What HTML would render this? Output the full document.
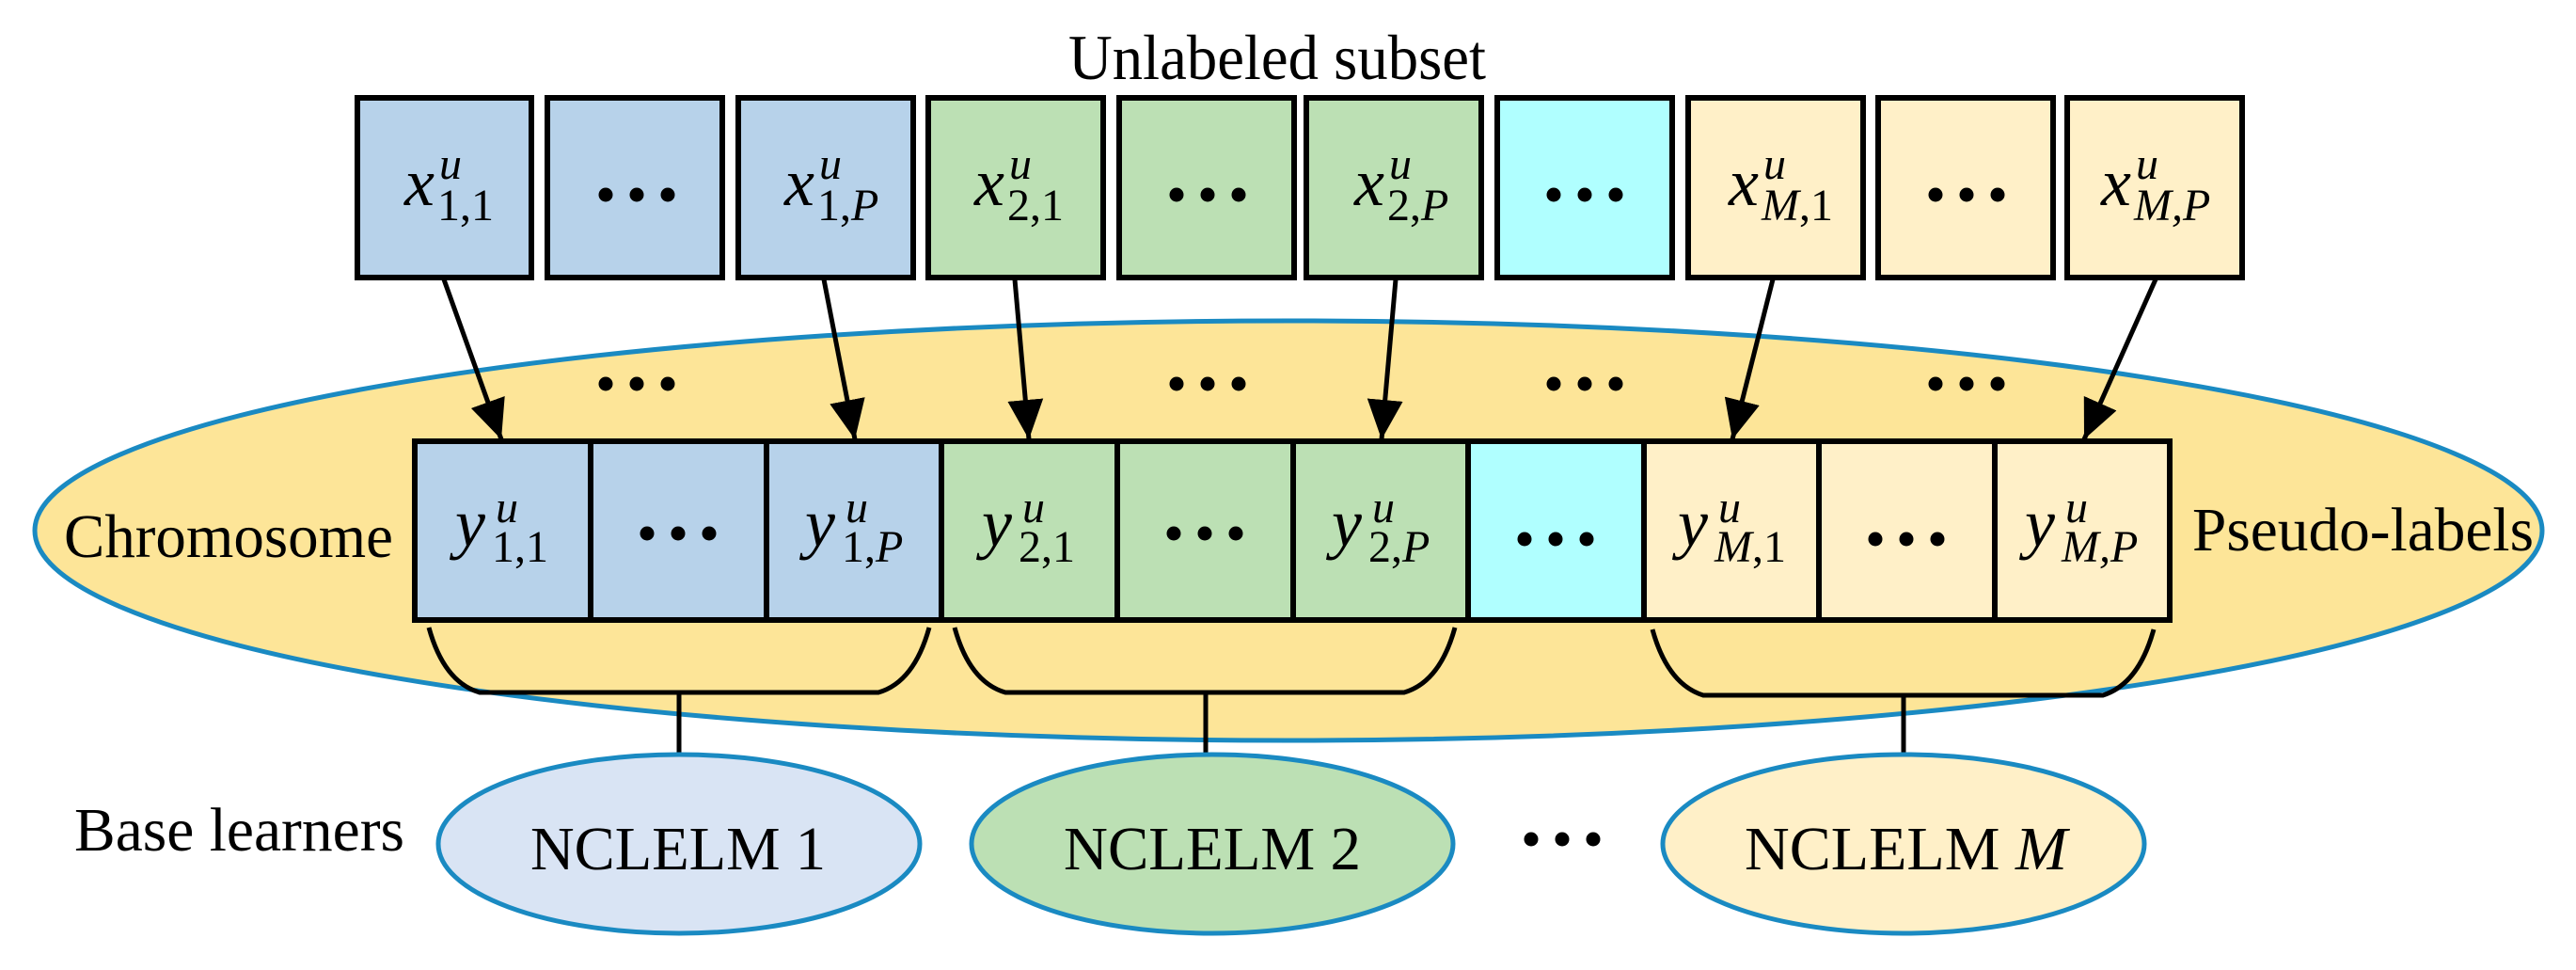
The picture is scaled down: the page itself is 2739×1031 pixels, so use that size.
<!DOCTYPE html>
<html><head><meta charset="utf-8"><style>
html,body{margin:0;padding:0;background:#fff;}
svg{display:block;}
text{font-family:"Liberation Serif",serif;fill:#000;}
</style></head><body>
<svg width="2739" height="1031" viewBox="0 0 2739 1031" xmlns="http://www.w3.org/2000/svg">
<defs>
<marker id="ah" markerWidth="42" markerHeight="38" refX="42" refY="19" orient="auto" markerUnits="userSpaceOnUse">
<path d="M0,0 L42,19 L0,38 Z" fill="#000"/>
</marker>
<g id="d"><circle cx="-33" cy="0" r="7.5"/><circle cx="0" cy="0" r="7.5"/><circle cx="33" cy="0" r="7.5"/></g>
</defs>

<text x="1358" y="84" font-size="68" text-anchor="middle" textLength="444" lengthAdjust="spacingAndGlyphs">Unlabeled subset</text>

<ellipse cx="1370" cy="564" rx="1333" ry="223" fill="#fde598" stroke="#1a8ac2" stroke-width="5"/>

<g stroke="#000" stroke-width="6">
<rect x="380" y="104" width="185" height="191" fill="#b7d2ea"/>
<rect x="582" y="104" width="186" height="191" fill="#b7d2ea"/>
<rect x="785" y="104" width="186" height="191" fill="#b7d2ea"/>
<rect x="987" y="104" width="186" height="191" fill="#bce0b4"/>
<rect x="1190" y="104" width="186" height="191" fill="#bce0b4"/>
<rect x="1389" y="104" width="186" height="191" fill="#bce0b4"/>
<rect x="1592" y="104" width="186" height="191" fill="#b0ffff"/>
<rect x="1795" y="104" width="186" height="191" fill="#fff0c8"/>
<rect x="1997" y="104" width="186" height="191" fill="#fff0c8"/>
<rect x="2198" y="104" width="186" height="191" fill="#fff0c8"/>
</g>

<g stroke="#000" stroke-width="6">
<rect x="441" y="469" width="187" height="190" fill="#b7d2ea"/>
<rect x="628" y="469" width="187" height="190" fill="#b7d2ea"/>
<rect x="815" y="469" width="186" height="190" fill="#b7d2ea"/>
<rect x="1001" y="469" width="187" height="190" fill="#bce0b4"/>
<rect x="1188" y="469" width="187" height="190" fill="#bce0b4"/>
<rect x="1375" y="469" width="186" height="190" fill="#bce0b4"/>
<rect x="1561" y="469" width="187" height="190" fill="#b0ffff"/>
<rect x="1748" y="469" width="186" height="190" fill="#fff0c8"/>
<rect x="1934" y="469" width="187" height="190" fill="#fff0c8"/>
<rect x="2121" y="469" width="186" height="190" fill="#fff0c8"/>
</g>

<g fill="#000">
<use href="#d" x="677" y="207"/>
<use href="#d" x="1284" y="207"/>
<use href="#d" x="1685" y="207"/>
<use href="#d" x="2091" y="207"/>
<use href="#d" x="677" y="408"/>
<use href="#d" x="1284" y="408"/>
<use href="#d" x="1685" y="408"/>
<use href="#d" x="2091" y="408"/>
<use href="#d" x="721" y="567"/>
<use href="#d" x="1281" y="567"/>
<use href="#d" x="1654" y="573"/>
<use href="#d" x="2027" y="573"/>
<use href="#d" x="1661" y="892"/>
</g>

<g stroke="#000" stroke-width="5" fill="none" marker-end="url(#ah)">
<line x1="472" y1="297" x2="533" y2="467"/>
<line x1="876" y1="297" x2="909" y2="467"/>
<line x1="1079" y1="297" x2="1094" y2="467"/>
<line x1="1484" y1="297" x2="1469" y2="467"/>
<line x1="1885" y1="297" x2="1842" y2="467"/>
<line x1="2292" y1="297" x2="2216" y2="467"/>
</g>

<g stroke="#000" stroke-width="5" fill="none">
<path d="M456,667 Q472,725 510,736 L934,736 Q972,725 988,667"/>
<path d="M1015,667 Q1031,725 1069,736 L1493,736 Q1531,725 1547,667"/>
<path d="M1757,669 Q1773,727 1811,739 L2236,739 Q2274,727 2290,669"/>
<line x1="722" y1="736" x2="722" y2="803"/>
<line x1="1282" y1="736" x2="1282" y2="803"/>
<line x1="2024" y1="739" x2="2024" y2="803"/>
</g>

<ellipse cx="722" cy="897" rx="256" ry="95" fill="#d9e4f4" stroke="#1a8ac2" stroke-width="5"/>
<ellipse cx="1289" cy="897" rx="256" ry="95" fill="#bce0b4" stroke="#1a8ac2" stroke-width="5"/>
<ellipse cx="2024" cy="897" rx="256" ry="95" fill="#fff0c8" stroke="#1a8ac2" stroke-width="5"/>

<text x="68" y="592" font-size="66" textLength="350" lengthAdjust="spacingAndGlyphs">Chromosome</text>
<text x="2331" y="585" font-size="66" textLength="363" lengthAdjust="spacingAndGlyphs">Pseudo-labels</text>
<text x="79" y="904" font-size="66" textLength="351" lengthAdjust="spacingAndGlyphs">Base learners</text>
<text x="564" y="924" font-size="66" textLength="314" lengthAdjust="spacingAndGlyphs">NCLELM 1</text>
<text x="1131" y="924" font-size="66" textLength="316" lengthAdjust="spacingAndGlyphs">NCLELM 2</text>
<text x="1855" y="924" font-size="66" textLength="343" lengthAdjust="spacingAndGlyphs">NCLELM <tspan font-style="italic">M</tspan></text>

<g font-size="72">
<text x="430" y="218" font-style="italic">x</text><text x="467" y="190" font-size="48" font-style="italic">u</text><text x="465" y="234" font-size="48">1,1</text>
<text x="834" y="218" font-style="italic">x</text><text x="871" y="190" font-size="48" font-style="italic">u</text><text x="869" y="234" font-size="48">1,<tspan font-style="italic">P</tspan></text>
<text x="1036" y="218" font-style="italic">x</text><text x="1073" y="190" font-size="48" font-style="italic">u</text><text x="1071" y="234" font-size="48">2,1</text>
<text x="1440" y="218" font-style="italic">x</text><text x="1477" y="190" font-size="48" font-style="italic">u</text><text x="1475" y="234" font-size="48">2,<tspan font-style="italic">P</tspan></text>
<text x="1838" y="218" font-style="italic">x</text><text x="1875" y="190" font-size="48" font-style="italic">u</text><text x="1873" y="234" font-size="48"><tspan font-style="italic">M</tspan>,1</text>
<text x="2234" y="218" font-style="italic">x</text><text x="2271" y="190" font-size="48" font-style="italic">u</text><text x="2269" y="234" font-size="48" font-style="italic">M,P</text>
</g>

<g font-size="72">
<text x="484" y="580" font-style="italic">y</text><text x="527" y="555" font-size="48" font-style="italic">u</text><text x="523" y="597" font-size="48">1,1</text>
<text x="856" y="580" font-style="italic">y</text><text x="899" y="555" font-size="48" font-style="italic">u</text><text x="895" y="597" font-size="48">1,<tspan font-style="italic">P</tspan></text>
<text x="1044" y="580" font-style="italic">y</text><text x="1087" y="555" font-size="48" font-style="italic">u</text><text x="1083" y="597" font-size="48">2,1</text>
<text x="1416" y="580" font-style="italic">y</text><text x="1459" y="555" font-size="48" font-style="italic">u</text><text x="1455" y="597" font-size="48">2,<tspan font-style="italic">P</tspan></text>
<text x="1784" y="580" font-style="italic">y</text><text x="1827" y="555" font-size="48" font-style="italic">u</text><text x="1823" y="597" font-size="48"><tspan font-style="italic">M</tspan>,1</text>
<text x="2153" y="580" font-style="italic">y</text><text x="2196" y="555" font-size="48" font-style="italic">u</text><text x="2192" y="597" font-size="48" font-style="italic">M,P</text>
</g>
</svg>
</body></html>
